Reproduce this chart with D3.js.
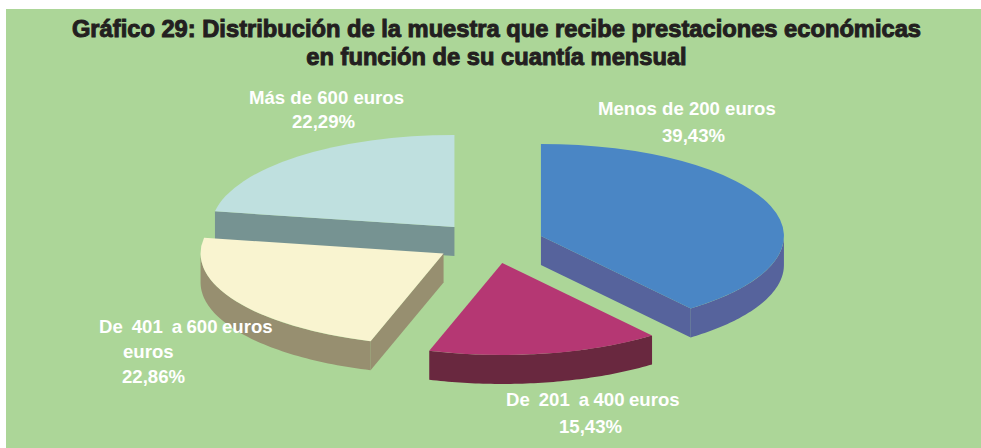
<!DOCTYPE html>
<html><head><meta charset="utf-8">
<style>html,body{margin:0;padding:0;background:#fff}svg{display:block}
text{font-family:"Liberation Sans",Arial,sans-serif;white-space:pre}</style>
<script src="https://cdn.jsdelivr.net/npm/d3@7/dist/d3.min.js"></script>
</head><body><div id="c"></div>
<script>
const titleLines = ["Gráfico 29: Distribución de la muestra que recibe prestaciones económicas", "en función de su cuantía mensual"];
const categories = ["Menos de 200 euros", "De  201  a 400 euros", "De  401  a 600 euros", "Más de 600 euros"];
const values = [39.43, 15.43, 22.86, 22.29];
const topColors = ["#4a86c5", "#b53773", "#f9f4d0", "#bfe0df"];
const wallColors = ["#56639c", "#69283f", "#978f70", "#769392"];
// small per-slice horizontal adjustment of the explosion
const explodeNudge = [0, 3, 0.5, 0];
// label layout: one entry per category, [x, baseline] of each line
const labelLayout = [
  [["Menos de 200 euros", 598, 115], ["%", 662, 142]],
  [["De  201  a 400 euros", 506, 406], ["%", 559, 433]],
  [["De  401  a 600 euros", 99, 333], ["euros", 123, 358], ["%", 122, 383]],
  [["Más de 600 euros", 249, 104], ["%", 292, 128]]
];
const W = 981, H = 448;
const cx = 489.5, cy = 242.7, rx = 243, ry = 92, depth = 29, explode = 54.4;
const k = ry / rx;

const svg = d3.select("#c").append("svg").attr("width", W).attr("height", H);
svg.append("rect").attr("width", W).attr("height", H).attr("fill", "#fff");
svg.append("rect").attr("x", 6).attr("y", 9).attr("width", W - 6).attr("height", H - 9).attr("fill", "#acd698");

const title = svg.append("g");
titleLines.forEach((t, i) => title.append("text")
  .attr("x", 496.5).attr("y", 37 + i * 28).attr("text-anchor", "middle")
  .attr("font-size", 23.7).attr("font-weight", 700).attr("fill", "#231f20")
  .attr("stroke", "#231f20").attr("stroke-width", 1).text(t));

const arcs = d3.pie().sort(null).startAngle(0).endAngle(2 * Math.PI)(values);
const arcGen = d3.arc().innerRadius(0).outerRadius(rx);
const px = a => rx * Math.sin(a), py = a => -ry * Math.cos(a);

// back-to-front
const order = [3, 0, 2, 1];
order.forEach(i => {
  const d = arcs[i];
  const mid = (d.startAngle + d.endAngle) / 2;
  const ox = cx + explode * Math.sin(mid) + explodeNudge[i], oy = cy - explode * k * Math.cos(mid);
  const g = svg.append("g").attr("transform", `translate(${ox},${oy})`);
  const wall = (pts) => g.append("path").attr("d", d3.line()(pts)).attr("fill", wallColors[i]);
  // flat radial walls
  if (Math.sin(d.startAngle) < 0) {
    const a = d.startAngle;
    wall([[0, 0], [px(a), py(a)], [px(a), py(a) + depth], [0, depth]]);
  }
  if (Math.sin(d.endAngle) > 0) {
    const a = d.endAngle;
    wall([[0, 0], [px(a), py(a)], [px(a), py(a) + depth], [0, depth]]);
  }
  // outer wall: front-facing part of rim
  const a0 = Math.max(d.startAngle, Math.PI / 2), a1 = Math.min(d.endAngle, 3 * Math.PI / 2);
  if (a1 > a0) {
    const angles = d3.range(0, 61).map(j => a0 + (a1 - a0) * j / 60);
    const pts = angles.map(a => [px(a), py(a)]).concat(angles.slice().reverse().map(a => [px(a), py(a) + depth]));
    wall(pts);
  }
  g.append("path").attr("transform", `scale(1,${k})`).attr("d", arcGen(d)).attr("fill", topColors[i]);
});

labelLayout.forEach((lines, i) => lines.forEach(([t, x, y]) => {
  svg.append("text").attr("x", x).attr("y", y)
    .attr("font-size", 18.6).attr("font-weight", 700).attr("fill", "#fff")
    .attr("word-spacing", t.includes("  ") ? -0.7 : 0)
    .text(t === "%" ? values[i].toFixed(2).replace(".", ",") + "%" : t);
}));
</script></body></html>
